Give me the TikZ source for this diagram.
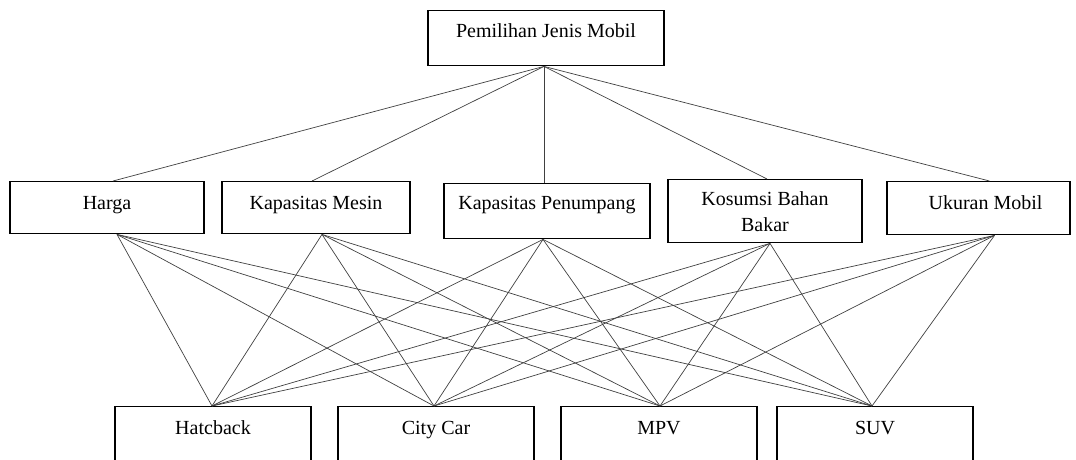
\documentclass[tikz,border=0pt]{standalone}
\usepackage{fontspec}
\setmainfont{Liberation Serif}
\begin{document}
\begin{tikzpicture}[x=1pt,y=-1pt,
  box/.style={draw, line width=1.4pt, inner sep=0pt, anchor=north, align=center,
    font=\fontsize{20}{26}\selectfont},
  link/.style={line width=0.7pt, draw=black!75}]
\useasboundingbox (0,0) rectangle (1076,459);
% top
\node[box, minimum width=236pt, text height=27pt, text depth=28pt] (top) at (546,10) {Pemilihan Jenis Mobil};
% criteria
\node[box, minimum width=194pt, text height=28pt, text depth=24pt] (harga) at (107,181) {Harga};
\node[box, minimum width=188pt, text height=28pt, text depth=24pt] (mesin) at (316,181) {Kapasitas Mesin};
\node[box, minimum width=206pt, text height=26pt, text depth=29pt] (penumpang) at (547,183) {Kapasitas Penumpang};
\node[box, minimum width=194pt, minimum height=63pt] (kosumsi) at (765,179) {Kosumsi Bahan\\Bakar};
\node[box, minimum width=183pt, text height=28pt, text depth=25pt] (ukuran) at (978.5,181) {\hspace*{14pt}Ukuran Mobil};
% alternatives
\node[box, minimum width=196pt, text height=28pt, text depth=60pt] (hatch) at (213,406) {Hatcback};
\node[box, minimum width=196pt, text height=28pt, text depth=60pt] (city) at (436,406) {City Car};
\node[box, minimum width=196pt, text height=28pt, text depth=60pt] (mpv) at (659,406) {MPV};
\node[box, minimum width=196pt, text height=28pt, text depth=60pt] (suv) at (875,406) {SUV};
% links top -> criteria
\foreach \m/\ms in {harga/6,mesin/-4,penumpang/-3,kosumsi/2,ukuran/11}
  \draw[link] ([xshift=-2pt]top.south) -- ([xshift=\ms pt]\m.north);
% links criteria -> alternatives
\foreach \m/\ms in {harga/10,mesin/6,penumpang/-4,kosumsi/5,ukuran/16}
  \foreach \b/\bs in {hatch/-1,city/-2,mpv/1,suv/-3}
    \draw[link] ([xshift=\ms pt]\m.south) -- ([xshift=\bs pt]\b.north);
\end{tikzpicture}
\end{document}
